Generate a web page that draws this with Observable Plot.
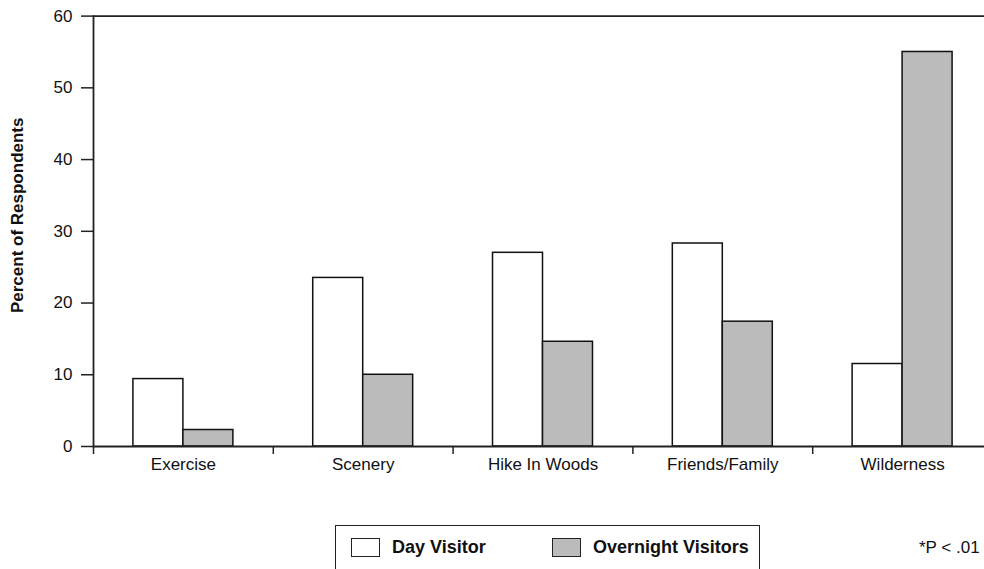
<!DOCTYPE html>
<html>
<head>
<meta charset="utf-8">
<script src="https://cdn.jsdelivr.net/npm/d3@7"></script>
<script src="https://cdn.jsdelivr.net/npm/@observablehq/plot@0.6"></script>
<style>
  html, body { margin: 0; padding: 0; background: #fff; }
  #wrap { position: relative; width: 984px; height: 569px; overflow: hidden; font-family: "Liberation Sans", Arial, sans-serif; color: #111; }
  #chart svg { display: block; }
  .legend-box { position: absolute; left: 335px; top: 525px; width: 425px; height: 80px; border: 1.5px solid #222; box-sizing: border-box; }
  .sw { position: absolute; top: 538px; width: 29px; height: 19px; border: 1.5px solid #222; box-sizing: border-box; }
  .lt { position: absolute; top: 537px; font-weight: bold; font-size: 18px; line-height: 20px; white-space: nowrap; }
  .note { position: absolute; left: 919px; top: 538px; font-size: 17px; line-height: 20px; white-space: nowrap; }
</style>
</head>
<body>
<div id="wrap">
  <div id="chart"></div>
  <div id="legend"></div>
</div>
<script>
const categories = ["Exercise", "Scenery", "Hike In Woods", "Friends/Family", "Wilderness"];
const dayVisitor = [9.4, 23.5, 27.0, 28.3, 11.5];
const overnightVisitors = [2.3, 10.0, 14.6, 17.4, 55.0];
const seriesNames = ["Day Visitor", "Overnight Visitors"];
const seriesColors = ["#ffffff", "#bbbbbb"];
const yTicks = [0, 10, 20, 30, 40, 50, 60];
const yLabel = "Percent of Respondents";
const noteText = "*P < .01";

const rows = categories.flatMap((c, i) => [
  {i, category: c, series: seriesNames[0], value: dayVisitor[i]},
  {i, category: c, series: seriesNames[1], value: overnightVisitors[i]}
]);

const barW = 0.278;
const boundaries = categories.map((_, i) => i - 0.5).concat([categories.length - 0.5]);
const centers = categories.map((_, i) => i);
const font = "Liberation Sans, Arial, sans-serif";

const chart = Plot.plot({
  width: 984,
  height: 480,
  marginLeft: 93,
  marginRight: -8,
  marginTop: 15.6,
  marginBottom: 34,
  style: {fontFamily: font, fontSize: "17px", color: "#111", background: "white"},
  x: {type: "linear", domain: [-0.5, categories.length - 0.5], axis: null},
  y: {domain: [0, 60], axis: null},
  color: {domain: seriesNames, range: seriesColors},
  marks: [
    Plot.rect(rows, {
      x1: d => d.i + (d.series === seriesNames[0] ? -barW : 0),
      x2: d => d.i + (d.series === seriesNames[0] ? 0 : barW),
      y1: 0,
      y2: "value",
      fill: "series",
      stroke: "#111",
      strokeWidth: 1.5
    }),
    Plot.ruleY([0, 60], {stroke: "#222", strokeWidth: 1.8}),
    Plot.frame({anchor: "left", stroke: "#222", strokeWidth: 1.8}),
    Plot.axisY({ticks: yTicks, tickSize: 12, tickPadding: 9, fontSize: 17, label: null, stroke: "#222", strokeWidth: 1.5}),
    Plot.axisX({ticks: boundaries, tickSize: 8, tickFormat: () => "", label: null, stroke: "#222", strokeWidth: 1.5}),
    Plot.axisX({ticks: centers, tickSize: 0, tickPadding: 11, tickFormat: i => categories[i], fontSize: 17, label: null}),
    Plot.text([yLabel], {frameAnchor: "left", textAnchor: "middle", lineAnchor: "middle", rotate: -90, dx: -76, dy: -16, fontWeight: "bold", fontSize: 17, fill: "#111"})
  ]
});
document.getElementById("chart").appendChild(chart);

const legend = document.getElementById("legend");
legend.innerHTML = `
  <div class="legend-box"></div>
  <div class="sw" style="left:351px;background:${seriesColors[0]}"></div>
  <div class="lt" style="left:392px">${seriesNames[0]}</div>
  <div class="sw" style="left:552px;background:${seriesColors[1]}"></div>
  <div class="lt" style="left:593px">${seriesNames[1]}</div>
  <div class="note">${noteText}</div>
`;
</script>
</body>
</html>
